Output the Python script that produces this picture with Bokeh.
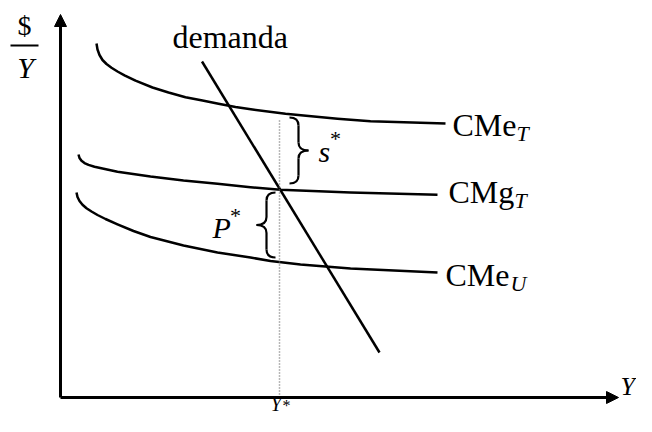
from bokeh.plotting import figure
from bokeh.models import Range1d, Arrow, NormalHead
from bokeh.core.properties import value
from bokeh.embed import file_html
from bokeh.resources import INLINE

# ---- data (diagram units, origin at the axes' intersection) ----
cme_t_x = [36, 37, 39, 42, 46, 51, 57, 64, 75, 92, 108, 125, 142, 158, 175, 192, 225, 243, 277, 310, 385]
cme_t_y = [354, 348, 342.5, 337.5, 333.5, 329.7, 326, 322.2, 316.8, 310, 305, 300.3, 297, 293.7,
           290.5, 288, 283.7, 282, 278.7, 276.2, 274]

cmg_t_x = [18, 19, 21, 24, 28, 34, 42, 57, 90, 123, 157, 190, 220, 290, 377]
cmg_t_y = [243, 239.5, 236.7, 234.4, 232.6, 230.8, 229, 225.8, 221, 217, 213.7, 210.3, 207.7, 205, 202.7]

cme_u_x = [16, 17, 19, 22, 26, 31, 37, 45, 57, 73, 90, 123, 157, 190, 210, 240, 290, 377]
cme_u_y = [205, 200.5, 196.5, 192.7, 189.2, 186, 182.5, 178.5, 173.2, 166.5, 160.5, 152, 145, 140,
           136.5, 133, 129, 125]

demand_x = [141.5, 319]
demand_y = [336, 45]

y_star = 219          # equilibrium quantity Y*
y_star_top = 277      # top of the dotted guide
s_span = [214, 280]   # s* brace (CMg_T .. CMe_T)
p_span = [140, 205]   # P* brace (CMe_U .. CMg_T)

axis_y_top = 383
axis_x_end = 558

FONT = value("Liberation Serif")

p = figure(width=636, height=416, output_backend="svg", toolbar_location=None,
           x_range=Range1d(-60, 576), y_range=Range1d(-19, 397),
           min_border=0, outline_line_color=None)
p.xaxis.visible = False
p.yaxis.visible = False
p.grid.visible = False
p.background_fill_color = "white"

LW = 2.5
# curves
p.line(cme_t_x, cme_t_y, line_color="black", line_width=LW, line_join="round")
p.line(cmg_t_x, cmg_t_y, line_color="black", line_width=LW, line_join="round")
p.line(cme_u_x, cme_u_y, line_color="black", line_width=LW, line_join="round")
p.line(demand_x, demand_y, line_color="black", line_width=LW)

# dotted guide at Y*
p.line([y_star, y_star], [0, y_star_top], line_color="#707070", line_width=1.5, line_dash="1 2")

# axes with arrow heads
p.add_layout(Arrow(end=NormalHead(size=12, fill_color="black", line_color="black", line_width=1),
                   x_start=0, y_start=0, x_end=0, y_end=axis_y_top,
                   line_color="black", line_width=3))
p.add_layout(Arrow(end=NormalHead(size=12, fill_color="black", line_color="black", line_width=1),
                   x_start=0, y_start=0, x_end=axis_x_end, y_end=0,
                   line_color="black", line_width=3))


def brace(xc, xt, xh, y0, y1, r=8):
    ym = (y0 + y1) / 2.0
    qx0 = [xh, xc, xt, xc]
    qy0 = [y1, ym + r, ym, y0 + r]
    qx1 = [xc, xt, xc, xh]
    qy1 = [y1 - r, ym, ym - r, y0]
    qcx = [xc, xc, xc, xc]
    qcy = [y1, ym, ym, y0]
    p.quadratic(x0=qx0, y0=qy0, x1=qx1, y1=qy1, cx=qcx, cy=qcy,
                line_color="black", line_width=2.2)
    p.segment(x0=[xc, xc], y0=[y1 - r, ym - r], x1=[xc, xc], y1=[ym + r, y0 + r],
              line_color="black", line_width=2.2)


brace(238, 248, 229, s_span[0], s_span[1])
brace(206, 196, 215, p_span[0], p_span[1])

# y-axis label $/Y
p.line([-50, -22], [352, 352], line_color="black", line_width=2)
p.text(x=[-36], y=[372], text=["$"], text_font=FONT, text_font_size="28px",
       text_align="center", text_baseline="alphabetic", text_color="black")
p.text(x=[-35], y=[330], text=["Y"], text_font=FONT, text_font_size="30px", text_font_style="italic",
       text_align="center", text_baseline="alphabetic", text_color="black")

# main labels
p.text(x=[112, 392, 388, 385], y=[361, 273, 206, 123],
       text=["demanda", "CMe", "CMg", "CMe"], text_font=FONT, text_font_size="32px",
       text_align="left", text_baseline="alphabetic", text_color="black")
# subscripts
p.text(x=[456, 454, 450], y=[264.5, 197.5, 114.5], text=["T", "T", "U"], text_font=FONT,
       text_font_size="22px", text_font_style="italic",
       text_align="left", text_baseline="alphabetic", text_color="black")

# italic letters s, P
p.text(x=[258, 152], y=[246.5, 170.5], text=["s", "P"], text_font=FONT,
       text_font_size="30px", text_font_style="italic",
       text_align="left", text_baseline="alphabetic", text_color="black")
# axis letter Y (x axis)
p.text(x=[560], y=[11], text=["Y"], text_font=FONT,
       text_font_size="26px", text_font_style="italic",
       text_align="left", text_baseline="alphabetic", text_color="black")
# Y* under the axis
p.text(x=[210], y=[-6], text=["Y"], text_font=FONT,
       text_font_size="20px", text_font_style="italic",
       text_align="left", text_baseline="alphabetic", text_color="black")
# asterisks
p.text(x=[275, 175], y=[259, 182], text=["*", "*"], text_font=FONT,
       text_font_size="22px", text_align="center", text_baseline="alphabetic", text_color="black")
p.text(x=[226], y=[-7.5], text=["*"], text_font=FONT,
       text_font_size="16px", text_align="center", text_baseline="alphabetic", text_color="black")

open("out.html", "w").write(file_html(p, INLINE))
